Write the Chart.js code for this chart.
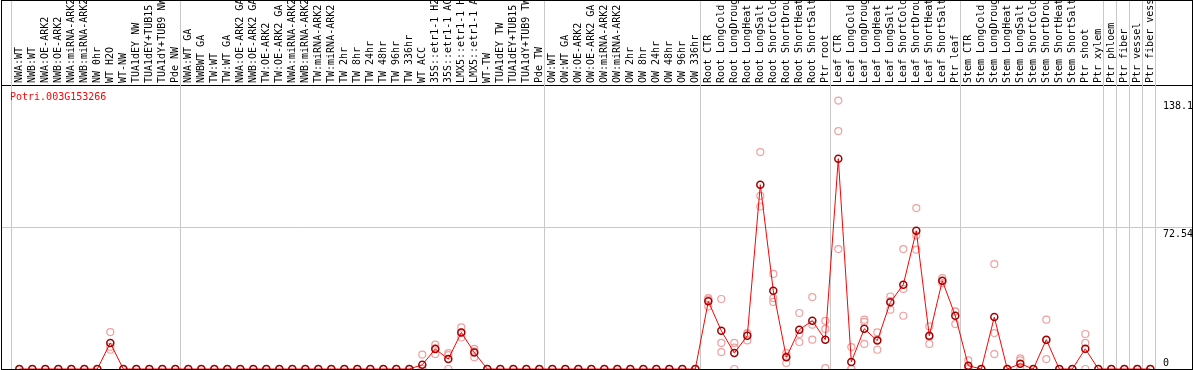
<!DOCTYPE html>
<html>
<head>
<meta charset="utf-8">
<script src="https://cdn.jsdelivr.net/npm/chart.js@4"></script>
<style>
  body { margin: 0; background: #fff; }
  #wrap { width: 1194px; height: 370px; }
</style>
</head>
<body>
<div id="wrap"><canvas id="chart"></canvas></div>
<script>
const gene_name = 'Potri.003G153266';

const sample_labels = [
    'NWA:WT', 'NWB:WT', 'NWA:OE-ARK2', 'NWB:OE-ARK2', 'NWA:miRNA-ARK2', 'NWB:miRNA-ARK2',
    'NW 0hr', 'WT H2O', 'WT-NW', 'TUA1dEY NW', 'TUA1dEY+TUB15 NW', 'TUA1dY+TUB9 NW', 'Pde NW',
    'NWA:WT GA', 'NWBWT GA', 'TW:WT', 'TW:WT GA', 'NWA:OE-ARK2 GA', 'NWB:OE-ARK2 GA',
    'TW:OE-ARK2', 'TW:OE-ARK2 GA', 'NWA:miRNA-ARK2', 'NWB:miRNA-ARK2', 'TW:miRNA-ARK2', 'TW:miRNA-ARK2',
    'TW 2hr', 'TW 8hr', 'TW 24hr', 'TW 48hr', 'TW 96hr', 'TW 336hr', 'WT ACC',
    '35S::etr1-1 H2O', '35S::etr1-1 ACC', 'LMX5::etr1-1 H2O', 'LMX5::etr1-1 ACC',
    'WT-TW', 'TUA1dEY TW', 'TUA1dEY+TUB15 TW', 'TUA1dY+TUB9 TW', 'Pde TW',
    'OW:WT', 'OW:WT GA', 'OW:OE-ARK2', 'OW:OE-ARK2 GA', 'OW:miRNA-ARK2', 'OW:miRNA-ARK2',
    'OW 2hr', 'OW 8hr', 'OW 24hr', 'OW 48hr', 'OW 96hr', 'OW 336hr',
    'Root CTR', 'Root LongCold', 'Root LongDrought', 'Root LongHeat', 'Root LongSalt',
    'Root ShortCold', 'Root ShortDrought', 'Root ShortHeat', 'Root ShortSalt', 'Ptr root',
    'Leaf CTR', 'Leaf LongCold', 'Leaf LongDrought', 'Leaf LongHeat', 'Leaf LongSalt',
    'Leaf ShortCold', 'Leaf ShortDrought', 'Leaf ShortHeat', 'Leaf ShortSalt', 'Ptr leaf',
    'Stem CTR', 'Stem LongCold', 'Stem LongDrought', 'Stem LongHeat', 'Stem LongSalt',
    'Stem ShortCold', 'Stem ShortDrought', 'Stem ShortHeat', 'Stem ShortSalt', 'Ptr shoot',
    'Ptr xylem', 'Ptr phloem', 'Ptr fiber', 'Ptr vessel', 'Ptr fiber vessel'
];

// mean expression per sample
const mean_values = [
    0, 0, 0, 0, 0, 0, 0, 13.4, 0, 0, 0, 0, 0,
    0, 0, 0, 0, 0, 0, 0, 0, 0, 0, 0, 0, 0, 0, 0, 0, 0, 0, 2.2, 10.3, 5.1, 18.8, 8.5, 0, 0, 0, 0, 0,
    0, 0, 0, 0, 0, 0, 0, 0, 0, 0, 0, 0,
    34.8, 19.7, 8.2, 17.1, 94.8, 40.3, 6.0, 20.2, 24.8, 15.1,
    108.2, 3.6, 20.7, 14.6, 34.3, 43.4, 71.1, 17.1, 45.4, 27.4,
    1.7, 0, 26.7, 0, 2.7, 0, 15.1, 0, 0, 10.4, 0,
    0, 0, 0, 0
];

// replicates
const rep_a = [
    0, 0, 0, 0, 0, 0, 0, 19.0, 0, 0, 0, 0, 0,
    0, 0, 0, 0, 0, 0, 0, 0, 0, 0, 0, 0, 0, 0, 0, 0, 0, 0, 7.4, 12.5, 8.2, 21.4, 10.4, 0, 0, 0, 0, 0,
    0, 0, 0, 0, 0, 0, 0, 0, 0, 0, 0, 0,
    36.5, 36.0, 13.4, 18.5, 111.6, 48.9, 8.2, 28.8, 37.0, 24.8,
    138.1, 11.3, 25.4, 18.8, 37.3, 61.7, 82.8, 21.9, 46.8, 29.6,
    4.4, 0, 54.0, 0, 5.5, 0, 25.4, 0, 0, 18.0, 0,
    0, 0, 0, 0
];
const rep_b = [
    0, 0, 0, 0, 0, 0, 0, 11.4, 0, 0, 0, 0, 0,
    0, 0, 0, 0, 0, 0, 0, 0, 0, 0, 0, 0, 0, 0, 0, 0, 0, 0, 0, 10.7, 7.1, 18.8, 9.1, 0, 0, 0, 0, 0,
    0, 0, 0, 0, 0, 0, 0, 0, 0, 0, 0, 0,
    35.7, 13.4, 11.0, 18.1, 89.1, 36.5, 6.7, 18.0, 22.8, 20.6,
    122.4, 0, 24.2, 15.1, 35.1, 41.2, 68.7, 16.5, 45.2, 29.5,
    0.7, 0, 18.5, 0, 4.4, 0, 14.8, 0, 0, 13.4, 0,
    0, 0, 0, 0
];
const rep_c = [
    0, 0, 0, 0, 0, 0, 0, 9.9, 0, 0, 0, 0, 0,
    0, 0, 0, 0, 0, 0, 0, 0, 0, 0, 0, 0, 0, 0, 0, 0, 0, 0, 0, 7.7, 0, 16.2, 6.0, 0, 0, 0, 0, 0,
    0, 0, 0, 0, 0, 0, 0, 0, 0, 0, 0, 0,
    32.2, 8.7, 0, 14.7, 83.6, 34.5, 3.1, 13.9, 15.1, 0.5,
    61.7, 0, 12.9, 9.9, 30.5, 27.4, 61.4, 12.9, 44.2, 23.1,
    0, 0, 7.7, 0, 0, 0, 5.1, 0, 0, 0, 0,
    0, 0, 0, 0
];

// sample groups end before these indexes
const group_starts = [0, 13, 41, 53, 63, 73, 84, 85, 86, 87, 88];
const y_ticks = [0, 72.54, 138.1];

Chart.defaults.font.family = "'DejaVu Sans Mono', 'Liberation Mono', monospace";
Chart.defaults.font.size = 10;
Chart.defaults.color = '#000';

var mean_points = mean_values.map((v, i) => ({x: i, y: v}));
var rep_points = [];
[rep_a, rep_b, rep_c].forEach(function(rep) {
    rep.forEach((v, i) => rep_points.push({x: i, y: v}));
});

const framePlugin = {
    id: 'frame',
    beforeDatasetsDraw(chart) {
        let ctx = chart.ctx;
        let xs = chart.scales.x;
        let area = chart.chartArea;
        ctx.save();
        ctx.strokeStyle = '#c8c8c8';
        ctx.lineWidth = 1;
        group_starts.forEach(function(g) {
            let px = Math.round(xs.getPixelForValue(g - 0.66)) + 0.5;
            ctx.beginPath();
            ctx.moveTo(px, 0);
            ctx.lineTo(px, area.bottom);
            ctx.stroke();
        });
        ctx.restore();
    },
    afterDraw(chart) {
        let ctx = chart.ctx;
        let area = chart.chartArea;
        ctx.save();
        ctx.strokeStyle = '#000';
        ctx.lineWidth = 1;
        ctx.strokeRect(1.5, 0.5, area.right - 1, area.bottom);
        ctx.fillStyle = '#ff0000';
        ctx.font = "10px 'DejaVu Sans Mono'";
        ctx.textBaseline = 'middle';
        ctx.fillText(gene_name, 10, 97);
        ctx.restore();
    }
};

new Chart(document.getElementById('chart'), {
    type: 'line',
    data: {
        datasets: [{
            label: 'mean',
            data: mean_points,
            borderColor: '#ff0000',
            borderWidth: 1,
            pointRadius: 3.5,
            pointBorderWidth: 1.5,
            pointBorderColor: '#a00000',
            pointBackgroundColor: 'rgba(0,0,0,0)',
            tension: 0,
            clip: 0,
            order: 0
        }, {
            label: 'replicates',
            data: rep_points,
            showLine: false,
            pointRadius: 3.5,
            pointBorderWidth: 1.2,
            pointBorderColor: '#f0a0a0',
            pointBackgroundColor: 'rgba(0,0,0,0)',
            clip: 0,
            order: 1
        }]
    },
    options: {
        responsive: true,
        maintainAspectRatio: false,
        animation: false,
        layout: { autoPadding: false, padding: { left: 1, right: 2, top: 0, bottom: 1 } },
        plugins: { legend: { display: false }, tooltip: { enabled: false } },
        scales: {
            x: {
                type: 'linear',
                position: 'top',
                min: -1.408,
                max: 90.207,
                grid: { display: false, drawTicks: false },
                border: { display: true, color: '#000', width: 1 },
                afterBuildTicks: function(scale) {
                    scale.ticks = sample_labels.map((l, i) => ({value: i}));
                },
                afterFit: function(scale) {
                    scale.height = 85;
                    scale.paddingLeft = 0;
                    scale.paddingRight = 0;
                },
                ticks: {
                    autoSkip: false,
                    minRotation: 90,
                    maxRotation: 90,
                    padding: 2,
                    labelOffset: 12.5,
                    callback: (v) => sample_labels[v]
                }
            },
            y: {
                position: 'right',
                min: 0,
                max: 146.1,
                border: { display: false },
                grid: {
                    drawTicks: false,
                    color: (c) => (c.tick && c.tick.value === 72.54) ? '#c8c8c8' : 'rgba(0,0,0,0)'
                },
                afterBuildTicks: function(scale) {
                    scale.ticks = y_ticks.map(v => ({value: v}));
                },
                afterFit: function(scale) {
                    scale.width = 0;
                    scale.paddingTop = 0;
                    scale.paddingBottom = 0;
                },
                ticks: {
                    mirror: true,
                    crossAlign: 'far',
                    padding: 1,
                    callback: (v) => v === 0 ? ['0', ''] : ['', String(v)]
                }
            }
        }
    },
    plugins: [framePlugin]
});
</script>
</body>
</html>
